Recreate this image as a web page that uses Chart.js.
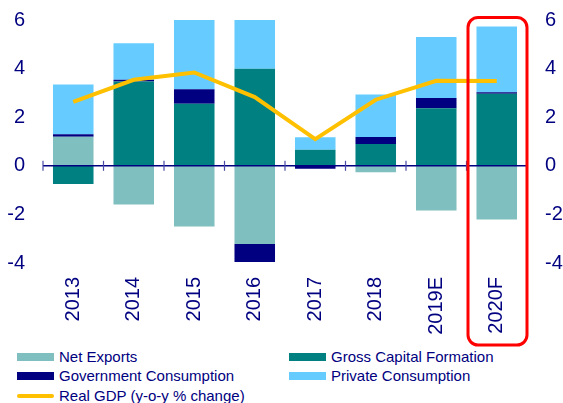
<!DOCTYPE html>
<html>
<head>
<meta charset="utf-8">
<script src="https://cdn.jsdelivr.net/npm/chart.js@4"></script>
<style>
body{margin:0;background:#fff;font-family:"Liberation Sans",Arial,sans-serif;}
#wrap{position:relative;width:563px;height:403px;}
#c{position:absolute;left:0;top:0;}
#legend{position:absolute;left:0;top:347px;width:563px;}
.item{position:absolute;height:19px;line-height:19px;font-size:15px;color:#000080;white-space:nowrap;}
.box{position:absolute;left:0;top:6px;width:37px;height:8px;}
.ln{position:absolute;left:0;top:8px;width:37px;height:4px;border-radius:2px;}
.txt{position:absolute;left:42px;top:0;}
</style>
</head>
<body>
<div id="wrap">
<canvas id="c" width="563" height="347"></canvas>
<div id="legend"></div>
</div>
<script>
// data
const categories = ["2013","2014","2015","2016","2017","2018","2019E","2020F"];
const netExports = [1.2, -1.59, -2.5, -3.22, 0, -0.27, -1.84, -2.21];
const grossCapital = [-0.75, 3.47, 2.55, 3.99, 0.66, 0.9, 2.37, 2.96];
const govConsumption = [0.1, 0.07, 0.6, -0.74, -0.12, 0.29, 0.42, 0.07];
const privConsumption = [2.05, 1.5, 2.85, 2.01, 0.52, 1.74, 2.51, 2.7];
const realGdp = [2.63, 3.54, 3.84, 2.83, 1.1, 2.72, 3.5, 3.49];
const yTicks = [-4, -2, 0, 2, 4, 6];

const navy = "#000080";

// y axes: fixed width, and don't let tick padding push the plot down
function fixY(w){
    return function(s){
        s.width = w;
        s.paddingTop = 10;
        s.paddingBottom = 10;
    };
}

// zero line + small category ticks, and the red box round the last year
const extras = {
    id: "extras",
    afterDatasetsDraw(chart){
        const ctx = chart.ctx, x = chart.scales.x, y = chart.scales.y;
        const a = chart.chartArea;
        const y0 = y.getPixelForValue(0);
        ctx.save();
        ctx.strokeStyle = navy;
        ctx.lineWidth = 1.5;
        ctx.beginPath();
        ctx.moveTo(a.left, y0);
        ctx.lineTo(a.right, y0);
        ctx.stroke();
        ctx.strokeStyle = "#4a4aa8";
        ctx.lineWidth = 1.2;
        for(let i=0;i<=categories.length;i++){
            let px;
            if(i===0) px = a.left;
            else if(i===categories.length) px = a.right;
            else px = (x.getPixelForValue(i-1)+x.getPixelForValue(i))/2;
            ctx.beginPath();
            ctx.moveTo(px, y0-5);
            ctx.lineTo(px, y0+5);
            ctx.stroke();
        }
        ctx.restore();
    },
    afterDraw(chart){
        const ctx = chart.ctx, x = chart.scales.x;
        const a = chart.chartArea;
        const n = categories.length;
        const left = (x.getPixelForValue(n-2)+x.getPixelForValue(n-1))/2 + 1.5;
        const right = a.right;
        const top = a.top - 2.5, bottom = 345;
        ctx.save();
        ctx.strokeStyle = "#ff0000";
        ctx.lineWidth = 3;
        ctx.beginPath();
        ctx.roundRect(left, top, right-left, bottom-top, 10);
        ctx.stroke();
        ctx.restore();
    }
};

const chart = new Chart(document.getElementById("c"), {
    type: "bar",
    data: {
        labels: categories,
        datasets: [
            {
                type: "line",
                label: "Real GDP (y-o-y % change)",
                data: realGdp,
                borderColor: "#ffc000",
                borderWidth: 4,
                pointRadius: 0,
                tension: 0,
                stack: "gdp"
            },
            {label: "Net Exports", data: netExports, backgroundColor: "#80bfbf", stack: "s"},
            {label: "Gross Capital Formation", data: grossCapital, backgroundColor: "#008080", stack: "s"},
            {label: "Government Consumption", data: govConsumption, backgroundColor: "#000080", stack: "s"},
            {label: "Private Consumption", data: privConsumption, backgroundColor: "#66ccff", stack: "s"}
        ]
    },
    options: {
        responsive: false,
        animation: false,
        layout: {padding: {top: 20, left: 0, right: 0, bottom: 0}},
        datasets: {bar: {barPercentage: 0.67, categoryPercentage: 1}},
        plugins: {legend: {display: false}, tooltip: {enabled: false}},
        scales: {
            x: {
                stacked: true,
                grid: {display: false, drawTicks: false},
                border: {display: false},
                ticks: {
                    color: navy,
                    font: {family: "Liberation Sans", size: 20},
                    minRotation: 90,
                    maxRotation: 90,
                    padding: 14
                },
                afterFit(s){ s.height = 84; s.paddingRight = 0; s.paddingLeft = 0; }
            },
            y: {
                stacked: true,
                min: -4, max: 6,
                grid: {display: false, drawTicks: false},
                border: {display: false},
                afterBuildTicks(s){ s.ticks = yTicks.map(v=>({value:v})); },
                ticks: {color: navy, font: {family: "Liberation Sans", size: 20}, padding: 18},
                afterFit: fixY(43)
            },
            y2: {
                position: "right",
                min: -4, max: 6,
                grid: {display: false, drawTicks: false},
                border: {display: false},
                afterBuildTicks(s){ s.ticks = yTicks.map(v=>({value:v})); },
                ticks: {color: navy, font: {family: "Liberation Sans", size: 20}, padding: 18},
                afterFit: fixY(36)
            }
        }
    },
    plugins: [extras]
});

// two-column legend built from the datasets
const legend = document.getElementById("legend");
const order = [1, 2, 3, 4, 0];
order.forEach((di, k)=>{
    const ds = chart.data.datasets[di];
    const el = document.createElement("div");
    el.className = "item";
    el.style.left = (k%2===0 ? 17 : 289) + "px";
    el.style.top = (Math.floor(k/2)*19.3) + "px";
    const mark = document.createElement("div");
    if(ds.type === "line"){
        mark.className = "ln";
        mark.style.background = ds.borderColor;
    } else {
        mark.className = "box";
        mark.style.background = ds.backgroundColor;
    }
    const t = document.createElement("span");
    t.className = "txt";
    t.textContent = ds.label;
    el.appendChild(mark);
    el.appendChild(t);
    legend.appendChild(el);
});
</script>
</body>
</html>
